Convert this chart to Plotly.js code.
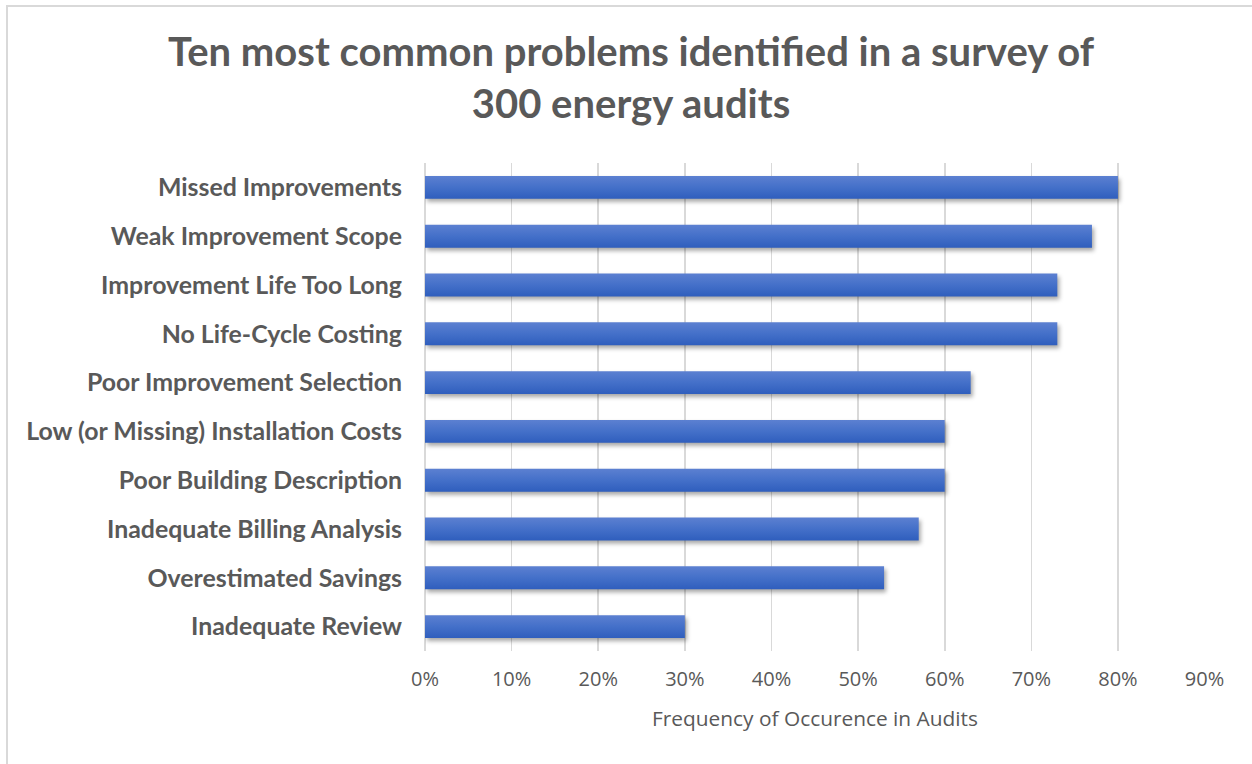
<!DOCTYPE html>
<html>
<head>
<meta charset="utf-8">
<script src="https://cdn.plot.ly/plotly-3.0.1.min.js"></script>
<style>
  html, body { margin: 0; padding: 0; background: #ffffff; }
  #chart { position: absolute; left: 0; top: 0; width: 1252px; height: 764px; }
  #frame { position: absolute; left: 6px; top: 5px; width: 1250px; height: 762px;
           border-top: 2px solid #d9d9d9; border-left: 2px solid #d9d9d9; pointer-events: none; }
</style>
</head>
<body>
<div id="chart"></div>
<div id="frame"></div>
<script>
// Problems found in the audit survey, listed from most to least frequent
const problems = [
  'Missed Improvements',
  'Weak Improvement Scope',
  'Improvement Life Too Long',
  'No Life-Cycle Costing',
  'Poor Improvement Selection',
  'Low (or Missing) Installation Costs',
  'Poor Building Description',
  'Inadequate Billing Analysis',
  'Overestimated Savings',
  'Inadequate Review'
];
// Share of audits in which each problem occurred
const frequency = [0.80, 0.77, 0.73, 0.73, 0.63, 0.60, 0.60, 0.57, 0.53, 0.30];
const tickValues = [0, 0.1, 0.2, 0.3, 0.4, 0.5, 0.6, 0.7, 0.8, 0.9];
const tickLabels = ['0%', '10%', '20%', '30%', '40%', '50%', '60%', '70%', '80%', '90%'];

const chartTitle = 'Ten most common problems identified in a survey of<br>300 energy audits';
const xTitle = 'Frequency of Occurence in Audits';

// Pick a font size so a string fills a given pixel width
function fitSize(text, weight, family, width) {
  const ctx = document.createElement('canvas').getContext('2d');
  ctx.font = weight + ' 100px ' + family;
  return 100 * width / ctx.measureText(text).width;
}

const grey = '#595959';
const titleSize = fitSize('Ten most common problems identified in a survey of', 'bold', 'Lato', 927);
const catSize = fitSize('Low (or Missing) Installation Costs', 'bold', 'Lato', 377);
const xTitleSize = fitSize(xTitle, 'normal', '"Open Sans"', 326);

const trace = {
  type: 'bar',
  orientation: 'h',
  y: problems,
  x: frequency,
  marker: { color: '#4169c6', line: { width: 0 } },
  hoverinfo: 'none'
};

const layout = {
  width: 1252,
  height: 764,
  paper_bgcolor: '#ffffff',
  plot_bgcolor: '#ffffff',
  margin: { l: 425, r: 47, t: 163, b: 113 },
  showlegend: false,
  bargap: 0.53,
  title: {
    text: chartTitle,
    font: { family: 'Lato', size: titleSize, color: grey, weight: 'bold' },
    xref: 'container', x: 0.504, xanchor: 'center',
    yref: 'container', y: 0.913, yanchor: 'top'
  },
  xaxis: {
    range: [0, 0.9005],
    tickvals: tickValues,
    ticktext: tickLabels,
    showgrid: true,
    gridcolor: '#d9d9d9',
    gridwidth: 1.6,
    zeroline: true,
    zerolinecolor: '#d9d9d9',
    zerolinewidth: 1.6,
    showline: false,
    ticks: '',
    ticklabelstandoff: 14,
    tickfont: { family: '"Open Sans"', size: 20, color: grey },
    title: {
      text: xTitle,
      font: { family: '"Open Sans"', size: xTitleSize, color: grey },
      standoff: 20
    },
    fixedrange: true
  },
  yaxis: {
    autorange: 'reversed',
    showgrid: false,
    zeroline: false,
    showline: false,
    ticks: '',
    ticklabelstandoff: 22,
    tickfont: { family: 'Lato', size: catSize, color: grey, weight: 'bold' },
    fixedrange: true
  }
};

Plotly.newPlot('chart', [trace], layout, { staticPlot: true, displayModeBar: false }).then(function (gd) {
  // Vertical gradient and soft drop shadow on each bar
  const svgNS = 'http://www.w3.org/2000/svg';
  const svg = gd.querySelector('.main-svg');
  let defs = svg.querySelector('defs');
  if (!defs) { defs = document.createElementNS(svgNS, 'defs'); svg.insertBefore(defs, svg.firstChild); }
  const grad = document.createElementNS(svgNS, 'linearGradient');
  grad.setAttribute('id', 'barShade');
  grad.setAttribute('x1', '0'); grad.setAttribute('y1', '0');
  grad.setAttribute('x2', '0'); grad.setAttribute('y2', '1');
  [['0', '#5c80d1'], ['0.5', '#4470c9'], ['1', '#2f5ebd']].forEach(function (s) {
    const stop = document.createElementNS(svgNS, 'stop');
    stop.setAttribute('offset', s[0]);
    stop.setAttribute('stop-color', s[1]);
    grad.appendChild(stop);
  });
  defs.appendChild(grad);
  gd.querySelectorAll('.barlayer .point path').forEach(function (p) {
    p.style.fill = 'url(#barShade)';
    p.style.filter = 'drop-shadow(2px 3px 2px rgba(0,0,0,0.35))';
  });
});
</script>
</body>
</html>
